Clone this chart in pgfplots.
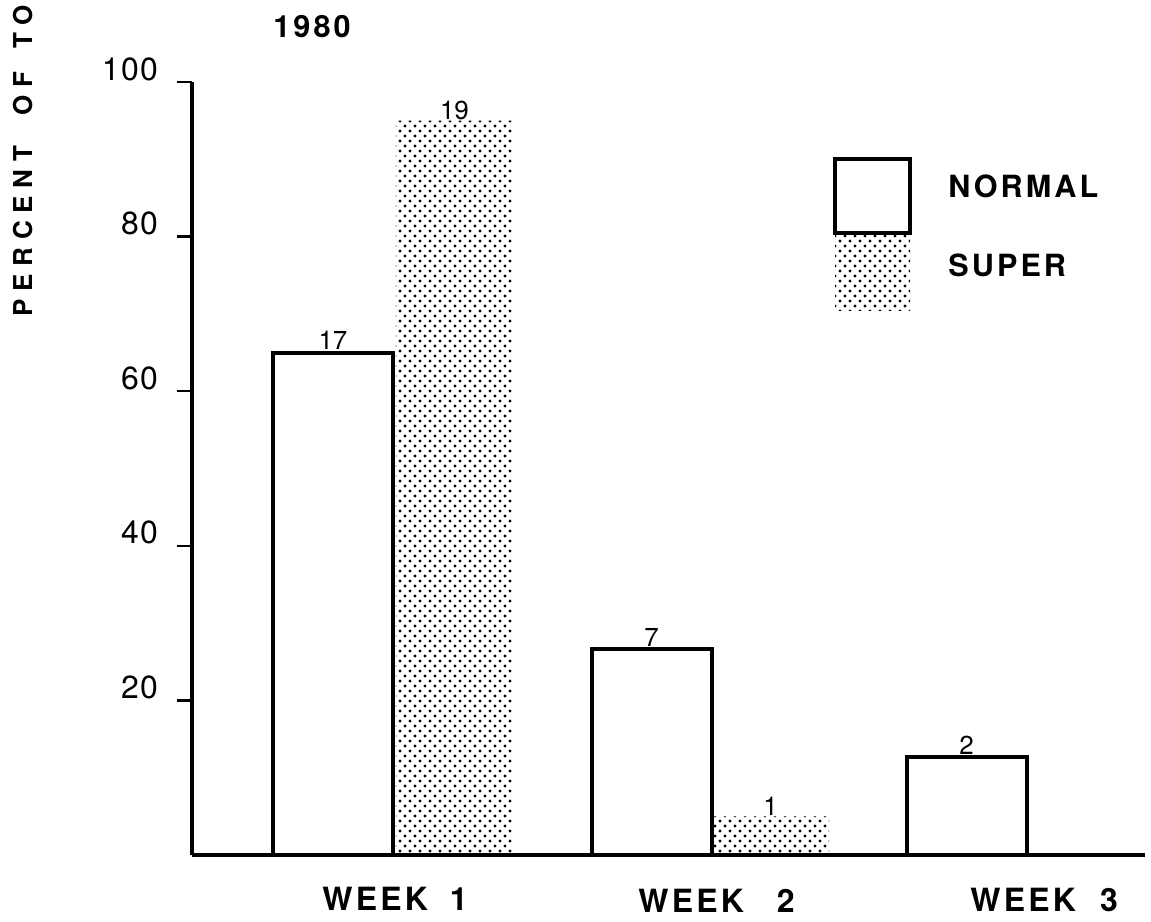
\documentclass[border=0pt]{standalone}
\usepackage{fontspec}
\setmainfont{TeX Gyre Heros}
\newfontfamily\lsA[LetterSpace=4]{TeX Gyre Heros}
\newfontfamily\lsB[LetterSpace=10]{TeX Gyre Heros}
\newfontfamily\lsC[LetterSpace=30]{TeX Gyre Heros}
\usepackage{pgfplots}
\pgfplotsset{compat=1.18}
\usetikzlibrary{patterns}
\pgfdeclarepatternformonly{mydots}{\pgfqpoint{-1pt}{-1pt}}{\pgfqpoint{4pt}{4pt}}{\pgfqpoint{5pt}{5pt}}{%
 \pgfpathcircle{\pgfqpoint{0pt}{0pt}}{0.85pt}%
 \pgfpathcircle{\pgfqpoint{2.5pt}{2.5pt}}{0.85pt}%
 \pgfusepath{fill}}
\begin{document}
\begin{tikzpicture}
\begin{axis}[
 scale only axis, width=476.5pt, height=386.5pt,
 anchor=south west, at={(0,0)},
 xmin=192, xmax=1145, ymin=0, ymax=100,
 axis x line*=bottom, axis y line*=left,
 axis line style={line width=2.2pt, -},
 xtick=\empty,
 ytick={20,40,60,80,100},
 tick align=outside, major tick length=7.5pt,
 tick style={line width=1.2pt, black},
 /pgf/number format/assume math mode=true,
 yticklabel style={font=\lsA\fontsize{16}{19}\selectfont, yshift=6.5pt, xshift=-6pt},
 ybar, bar width=120,
 clip=false,
 axis on top,
 point meta=explicit symbolic,
 nodes near coords,
 nodes near coords style={font=\fontsize{13}{15}\selectfont, anchor=south, inner sep=0.3pt, black},
]
\addplot[draw=none, pattern=mydots, bar shift=0pt, bar width=117] coordinates {(454.5,95)[19] (770.5,5)[1]};
\addplot[draw=black, line width=2pt, fill=white, bar shift=0pt] coordinates {(333,65)[17] (651.5,26.6)[7] (966.5,12.7)[2]};
% legend
\draw[line width=1.6pt] (axis cs:835,90.04) rectangle (axis cs:910,80.47);
\fill[pattern=mydots] (axis cs:835,80.2) rectangle (axis cs:910,70.5);
\node[anchor=base west, inner sep=0, font=\lsB\bfseries\fontsize{15.3}{18}\selectfont] at (axis cs:948,85.12) {NORMAL};
\node[anchor=base west, inner sep=0, font=\lsB\bfseries\fontsize{15.3}{18}\selectfont] at (axis cs:948,74.9) {SUPER};
% title
\node[anchor=base west, inner sep=0, font=\lsB\bfseries\fontsize{15.3}{18}\selectfont] at (axis cs:273,105.8) {1980};
% category labels
\node[anchor=base west, inner sep=0, font=\lsB\bfseries\fontsize{16}{19}\selectfont] at (axis cs:322,-7.12) {WEEK\hspace{11pt}1};
\node[anchor=base west, inner sep=0, font=\lsB\bfseries\fontsize{16}{19}\selectfont] at (axis cs:638,-7.5) {WEEK\hspace{16.5pt}2};
\node[anchor=base west, inner sep=0, font=\lsB\bfseries\fontsize{16}{19}\selectfont] at (axis cs:970,-7.37) {WEEK\hspace{12pt}3};
% y label
\node[rotate=90, anchor=base west, inner sep=0, font=\lsC\bfseries\fontsize{13}{16}\selectfont] at (axis cs:33,69.6) {PERCENT\hspace{15pt}OF\hspace{11.5pt}TOTAL};
\end{axis}
\pgfresetboundingbox
\useasboundingbox (-96pt,-33pt) rectangle (479.5pt,427.5pt);
\end{tikzpicture}
\end{document}
